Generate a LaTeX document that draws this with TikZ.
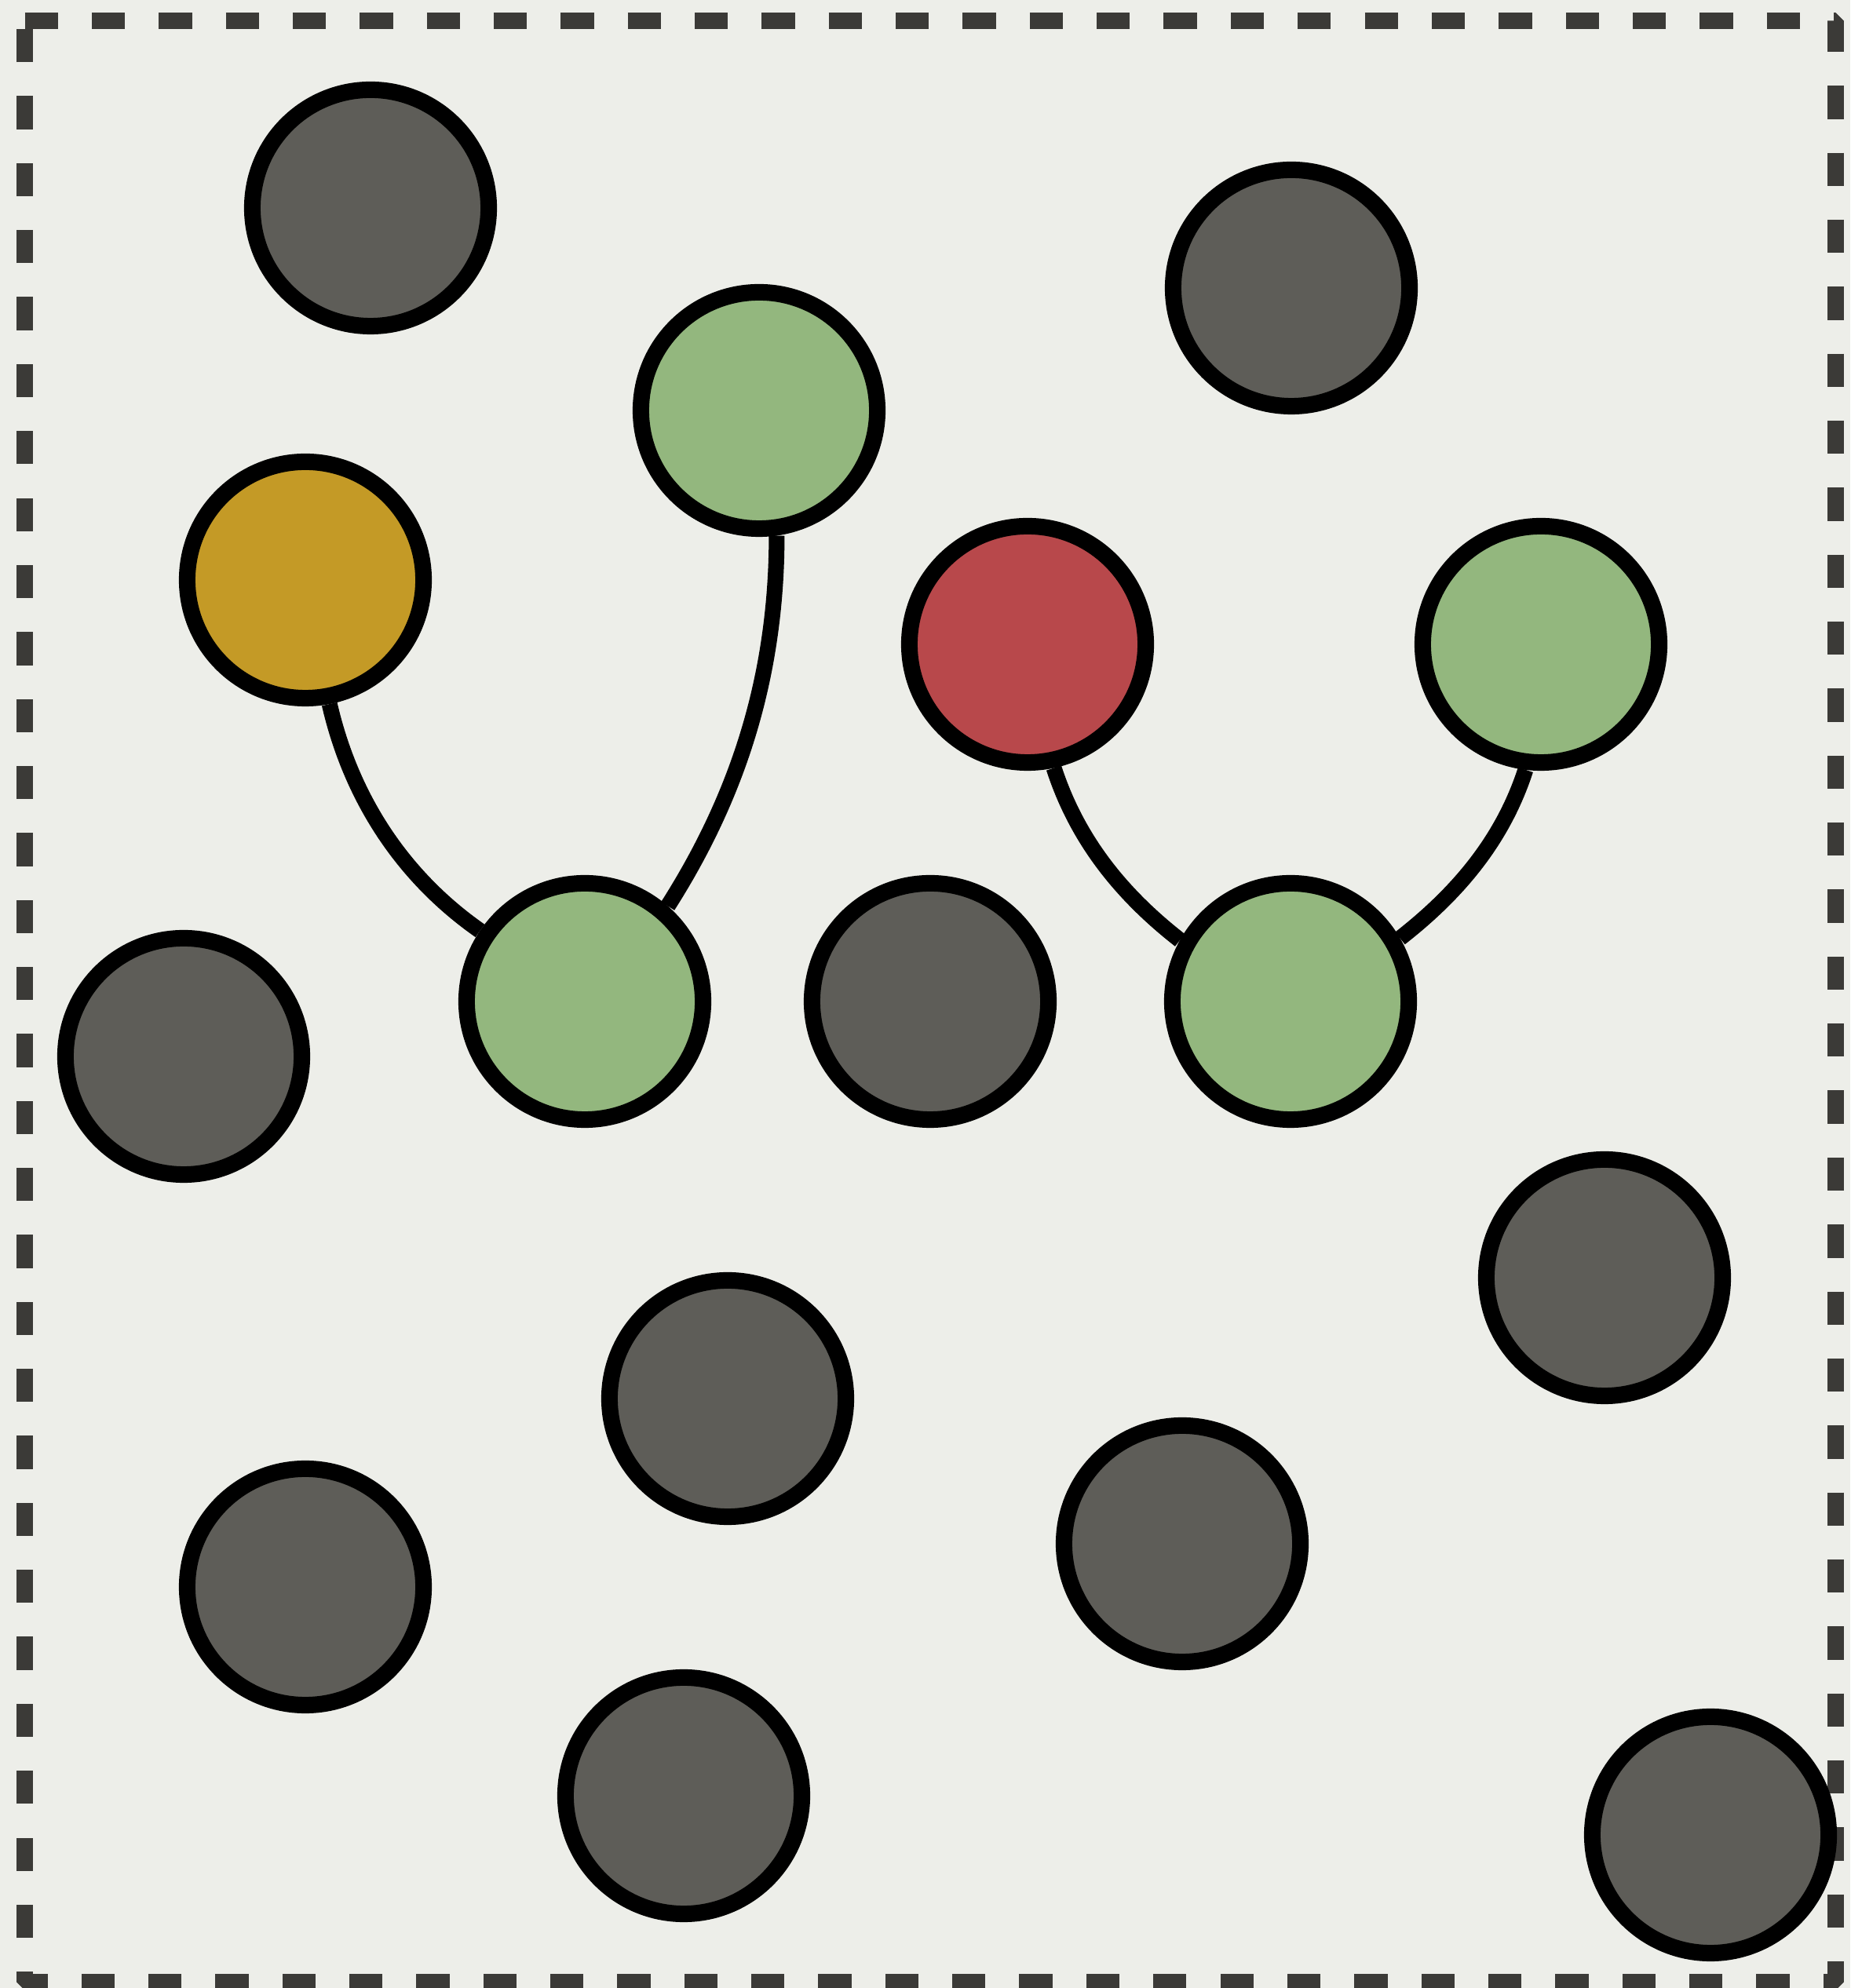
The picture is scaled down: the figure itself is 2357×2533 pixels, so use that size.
\documentclass[tikz,border=0pt]{standalone}
\usepackage{tikz}

\begin{document}
\begin{tikzpicture}[x=0.01cm,y=0.01cm,
  dot/.style={circle, draw=black, line width=0.21cm, inner sep=0pt, minimum size=3.01cm},
  idle/.style={dot, fill=idlegray},
  live/.style={dot, fill=livegreen},
  link/.style={draw=black, line width=0.2cm, looseness=0.9}]

% Paper and node colours
\definecolor{paper}{RGB}{237,238,233}
\definecolor{framegray}{RGB}{59,58,55}
\definecolor{idlegray}{RGB}{94,93,88}
\definecolor{livegreen}{RGB}{147,183,126}
\definecolor{ambergold}{RGB}{196,154,38}
\definecolor{brickred}{RGB}{184,72,75}

\useasboundingbox (0,0) rectangle (2357,2533);
\fill[paper] (0,0) rectangle (2357,2533);

% Dashed frame
\draw[framegray, line width=0.21cm, dash pattern=on 0.423cm off 0.43cm, line join=bevel]
  (31.5,2506.5) -- (2338.5,2506.5) -- (2338.5,7.5) -- (31.5,7.5) -- cycle;

% Idle (gray) nodes
\foreach \name/\x/\y in {idleA/472/2268, idleB/1645/2166, idleC/234/1187,
  idleD/1185/1257, idleE/2044/905, idleF/927/751, idleG/389/511,
  idleH/1506/566, idleI/871/245, idleJ/2179/195} {
  \node[idle] (\name) at (\x,\y) {};
}

% Leaves
\node[live] (leafA) at (967,2010) {};
\node[dot, fill=ambergold] (leafB) at (389,1794) {};
\node[dot, fill=brickred] (leafC) at (1309,1712) {};
\node[live] (leafD) at (1963,1712) {};

% Hubs
\node[live] (hubL) at (745,1257) {};
\node[live] (hubR) at (1644,1257) {};

% Links
\draw[link] (leafB.-79) to[out=-77, in=145] (hubL.146);
\draw[link] (leafA.-82) to[out=-90, in=57.5] (hubL.49);
\draw[link] (leafC.-78) to[out=-72, in=142] (hubR.151);
\draw[link] (leafD.-97) to[out=-108, in=38] (hubR.30);

\end{tikzpicture}
\end{document}
